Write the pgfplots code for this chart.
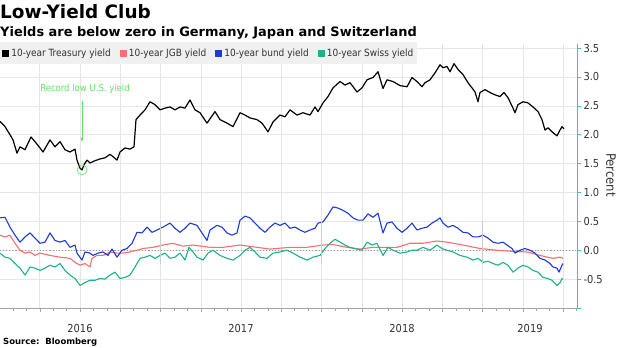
\documentclass[border=0pt]{standalone}
\usepackage{pgfplots}
\pgfplotsset{compat=1.18}
\usepackage{pgfplotstable}
\usetikzlibrary{arrows.meta}
\usepackage{fontspec}
\setmainfont{DejaVu Sans}
\newfontfamily\cond{DejaVu Sans Condensed}
\definecolor{jgbred}{RGB}{247,110,110}
\definecolor{bundblue}{RGB}{28,58,212}
\definecolor{swissgreen}{RGB}{26,178,136}
\definecolor{axteal}{RGB}{60,200,160}
\definecolor{annogreen}{RGB}{95,228,95}
\definecolor{gridgray}{RGB}{230,230,230}
\definecolor{leggray}{RGB}{240,240,240}
\definecolor{ticktext}{RGB}{50,50,50}

\pgfplotstableread{
x v
0 2.23
5 2.14
10 2.00
13 1.91
17 1.68
20 1.79
25 1.74
31 1.96
35 1.88
40 1.77
43 1.70
50 1.91
55 1.79
60 1.88
65 1.74
70 1.70
75 1.75
77 1.56
80 1.42
82 1.39
84 1.48
87 1.56
90 1.51
95 1.55
100 1.58
105 1.60
110 1.66
113 1.62
117 1.56
120 1.70
125 1.77
130 1.75
134 1.79
136 2.26
140 2.34
145 2.43
150 2.57
155 2.52
160 2.43
165 2.46
170 2.48
175 2.43
180 2.48
185 2.46
190 2.60
195 2.43
200 2.38
207 2.20
215 2.40
220 2.26
227 2.20
233 2.14
240 2.38
245 2.34
250 2.29
257 2.26
262 2.20
268 2.05
273 2.22
280 2.34
285 2.31
290 2.43
297 2.34
303 2.38
310 2.34
315 2.48
318 2.40
323 2.55
328 2.66
333 2.81
340 2.92
345 2.86
350 2.90
357 2.74
362 2.81
367 2.95
373 2.99
378 3.09
383 2.80
387 2.95
393 2.92
400 2.85
407 2.83
412 2.99
417 2.92
422 2.83
425 2.90
430 2.95
435 3.07
440 3.21
443 3.16
447 3.18
450 3.09
454 3.23
458 3.13
463 3.04
468 2.90
472 2.81
475 2.74
478 2.57
480 2.73
485 2.78
490 2.73
495 2.69
500 2.66
504 2.73
508 2.64
513 2.46
515 2.38
518 2.52
523 2.57
528 2.55
533 2.48
538 2.40
542 2.26
545 2.08
548 2.12
552 2.05
557 1.98
560 2.08
562 2.14
564 2.10
}\tsy

\pgfplotstableread{
x v
0 0.26
5 0.23
10 0.26
15 0.12
20 0.00
25 -0.05
30 -0.03
35 -0.09
40 -0.05
50 -0.09
60 -0.12
70 -0.14
75 -0.21
80 -0.26
85 -0.23
90 -0.29
92 -0.14
97 -0.09
103 -0.09
110 -0.03
117 -0.05
123 -0.05
130 -0.03
137 0.00
143 0.03
153 0.05
163 0.09
173 0.12
183 0.07
193 0.09
210 0.05
223 0.05
240 0.09
257 0.05
270 0.02
290 0.05
307 0.05
323 0.09
333 0.10
347 0.05
360 0.02
373 0.05
387 0.05
397 0.05
410 0.12
423 0.12
437 0.16
447 0.14
463 0.09
480 0.03
497 0.00
513 -0.02
527 -0.03
540 -0.09
553 -0.14
560 -0.12
563 -0.14
}\jgb

\pgfplotstableread{
x v
0 0.56
5 0.57
10 0.40
15 0.26
20 0.14
25 0.23
30 0.30
35 0.21
40 0.12
45 0.14
50 0.30
55 0.17
60 0.14
65 0.17
70 0.05
75 0.09
77 -0.05
82 -0.17
85 -0.03
90 -0.05
93 -0.09
98 -0.05
103 -0.03
108 -0.09
112 0.02
117 -0.12
122 0.00
127 0.03
132 0.12
137 0.31
142 0.30
147 0.40
152 0.31
157 0.35
163 0.40
170 0.47
175 0.38
180 0.31
185 0.38
190 0.47
197 0.43
202 0.30
207 0.17
210 0.35
217 0.43
222 0.40
227 0.30
232 0.26
237 0.30
240 0.52
245 0.59
250 0.56
255 0.47
260 0.38
265 0.31
270 0.40
275 0.47
280 0.43
285 0.47
290 0.38
295 0.40
300 0.35
305 0.31
310 0.35
315 0.38
318 0.47
323 0.49
328 0.61
333 0.75
338 0.73
343 0.69
348 0.64
353 0.56
358 0.52
363 0.52
368 0.63
373 0.57
378 0.64
383 0.30
387 0.47
392 0.49
397 0.38
402 0.31
407 0.38
412 0.47
417 0.35
422 0.38
427 0.40
432 0.47
437 0.52
440 0.56
443 0.47
448 0.40
453 0.43
458 0.38
463 0.31
468 0.30
473 0.23
478 0.23
483 0.26
488 0.21
493 0.14
498 0.12
503 0.14
507 0.09
512 0.03
515 -0.05
520 0.00
525 0.03
530 0.00
535 -0.05
540 -0.14
545 -0.17
550 -0.23
553 -0.29
557 -0.31
559 -0.38
562 -0.26
563 -0.23
}\bund

\pgfplotstableread{
x v
0 -0.05
5 -0.12
10 -0.14
15 -0.23
20 -0.31
25 -0.43
30 -0.29
35 -0.31
40 -0.35
45 -0.31
50 -0.26
55 -0.29
60 -0.23
65 -0.35
70 -0.43
75 -0.49
80 -0.61
85 -0.56
90 -0.52
95 -0.52
100 -0.49
105 -0.50
110 -0.43
115 -0.38
120 -0.49
125 -0.47
130 -0.43
135 -0.29
140 -0.14
145 -0.12
150 -0.09
155 -0.14
160 -0.09
165 -0.05
170 -0.14
175 -0.12
180 -0.05
185 -0.17
189 0.05
193 -0.03
197 -0.12
203 -0.17
208 -0.05
213 0.00
220 -0.09
227 -0.14
233 -0.17
240 -0.09
245 0.00
250 0.05
255 -0.03
260 -0.12
267 -0.14
273 -0.05
280 -0.03
287 0.00
293 -0.05
300 -0.12
307 -0.17
313 -0.12
320 -0.09
325 0.03
330 0.12
335 0.19
340 0.14
345 0.09
350 0.05
357 0.02
362 0.00
367 0.14
372 0.09
377 0.12
383 -0.09
388 0.05
393 0.00
400 -0.05
407 -0.03
412 0.00
417 0.00
423 0.05
430 0.00
437 0.09
442 0.03
447 0.00
453 -0.03
460 -0.09
467 -0.12
473 -0.17
478 -0.14
483 -0.21
488 -0.19
493 -0.23
498 -0.26
503 -0.21
508 -0.26
513 -0.38
518 -0.31
523 -0.26
528 -0.29
533 -0.35
538 -0.38
543 -0.47
548 -0.49
552 -0.52
557 -0.61
560 -0.56
562 -0.49
563 -0.50
}\swiss

\begin{document}
\begin{tikzpicture}
\useasboundingbox (0,0) rectangle (620bp,348bp);
\begin{axis}[
  at={(0bp,40bp)}, anchor=south west,
  scale only axis, width=577bp, height=264bp,
  xmin=0, xmax=577, ymin=-1, ymax=3.57,
  axis x line=bottom, axis y line=right,
  x axis line style={-, draw=gray!70},
  y axis line style={-, draw=axteal, line width=0.8bp},
  xtick={39.76,80.02,...,564},
  xticklabels={},
  minor xtick={12.92,26.34,...,578},
  xmajorgrids=true,
  ytick={-1,-0.5,0,0.5,1,1.5,2,2.5,3,3.5},
  yticklabels={,-0.5,0.0,0.5,1.0,1.5,2.0,2.5,3.0,3.5},
  ymajorgrids=true,
  grid style={gridgray, line width=0.6bp},
  tick align=outside,
  major tick length=4bp, minor tick length=3bp,
  x tick style={draw=gray!70, line width=0.5bp},
  y tick style={draw=axteal, line width=0.6bp},
  yticklabel style={font=\cond\fontsize{11}{12}\selectfont, text=ticktext, xshift=-1bp},
  legend columns=4,
  legend style={at={(0,1)}, anchor=north west, yshift=2bp,
    fill=leggray, draw=none, inner xsep=2bp, inner ysep=4.5bp,
    font=\cond\fontsize{10}{12}\selectfont, text=ticktext,
    /tikz/every even column/.append style={column sep=7bp}},
  legend image code/.code={\fill[#1] (0bp,-3bp) rectangle (6bp,3bp);},
  every axis plot/.append style={line width=1.1bp, line join=round},
  clip=false,
]
\addplot[gray!80, dotted, line width=0.7bp, forget plot] coordinates {(0,0) (577,0)};
\addplot[color=black, line width=1.2bp] table[x=x,y=v] {\tsy};
\addlegendentry{10-year Treasury yield}
\addplot[color=jgbred] table[x=x,y=v] {\jgb};
\addlegendentry{10-year JGB yield}
\addplot[color=bundblue] table[x=x,y=v] {\bund};
\addlegendentry{10-year bund yield}
\addplot[color=swissgreen] table[x=x,y=v] {\swiss};
\addlegendentry{10-year Swiss yield}
% annotation
\draw[annogreen, line width=0.6bp, -{Latex[length=4bp,width=3bp]}] (axis cs:82,2.59) -- (axis cs:82,1.87);
\draw[annogreen, line width=0.6bp] (axis cs:82,1.39) circle [radius=5bp];
\node[annogreen, font=\cond\fontsize{9.5}{11}\selectfont] at (axis cs:85,2.80) {Record low U.S. yield};
% year separators and labels
\draw[gray!40, line width=0.6bp] (axis cs:160.54,-1) ++(0,-14bp) -- ++(0,-15bp);
\draw[gray!40, line width=0.6bp] (axis cs:321.58,-1) ++(0,-14bp) -- ++(0,-15bp);
\draw[gray!40, line width=0.6bp] (axis cs:482.62,-1) ++(0,-14bp) -- ++(0,-15bp);
\node[font=\cond\fontsize{11}{12}\selectfont, text=ticktext] at (axis cs:80,-1) [yshift=-21bp] {2016};
\node[font=\cond\fontsize{11}{12}\selectfont, text=ticktext] at (axis cs:241,-1) [yshift=-21bp] {2017};
\node[font=\cond\fontsize{11}{12}\selectfont, text=ticktext] at (axis cs:402,-1) [yshift=-21bp] {2018};
\node[font=\cond\fontsize{11}{12}\selectfont, text=ticktext] at (axis cs:530,-1) [yshift=-21bp] {2019};
\end{axis}
\node[anchor=north west, inner sep=0, font=\bfseries\fontsize{18.5}{20}\selectfont] at (0bp,344bp) {Low-Yield Club};
\node[anchor=north west, inner sep=0, font=\bfseries\fontsize{13}{15}\selectfont] at (0bp,322bp) {Yields are below zero in Germany, Japan and Switzerland};
\node[rotate=-90, font=\cond\fontsize{13}{14}\selectfont, text=ticktext] at (611bp,173bp) {Percent};
\node[anchor=west, inner sep=0, font=\bfseries\fontsize{8.5}{10}\selectfont] at (3bp,6bp) {Source:\ \ Bloomberg};
\end{tikzpicture}
\end{document}
